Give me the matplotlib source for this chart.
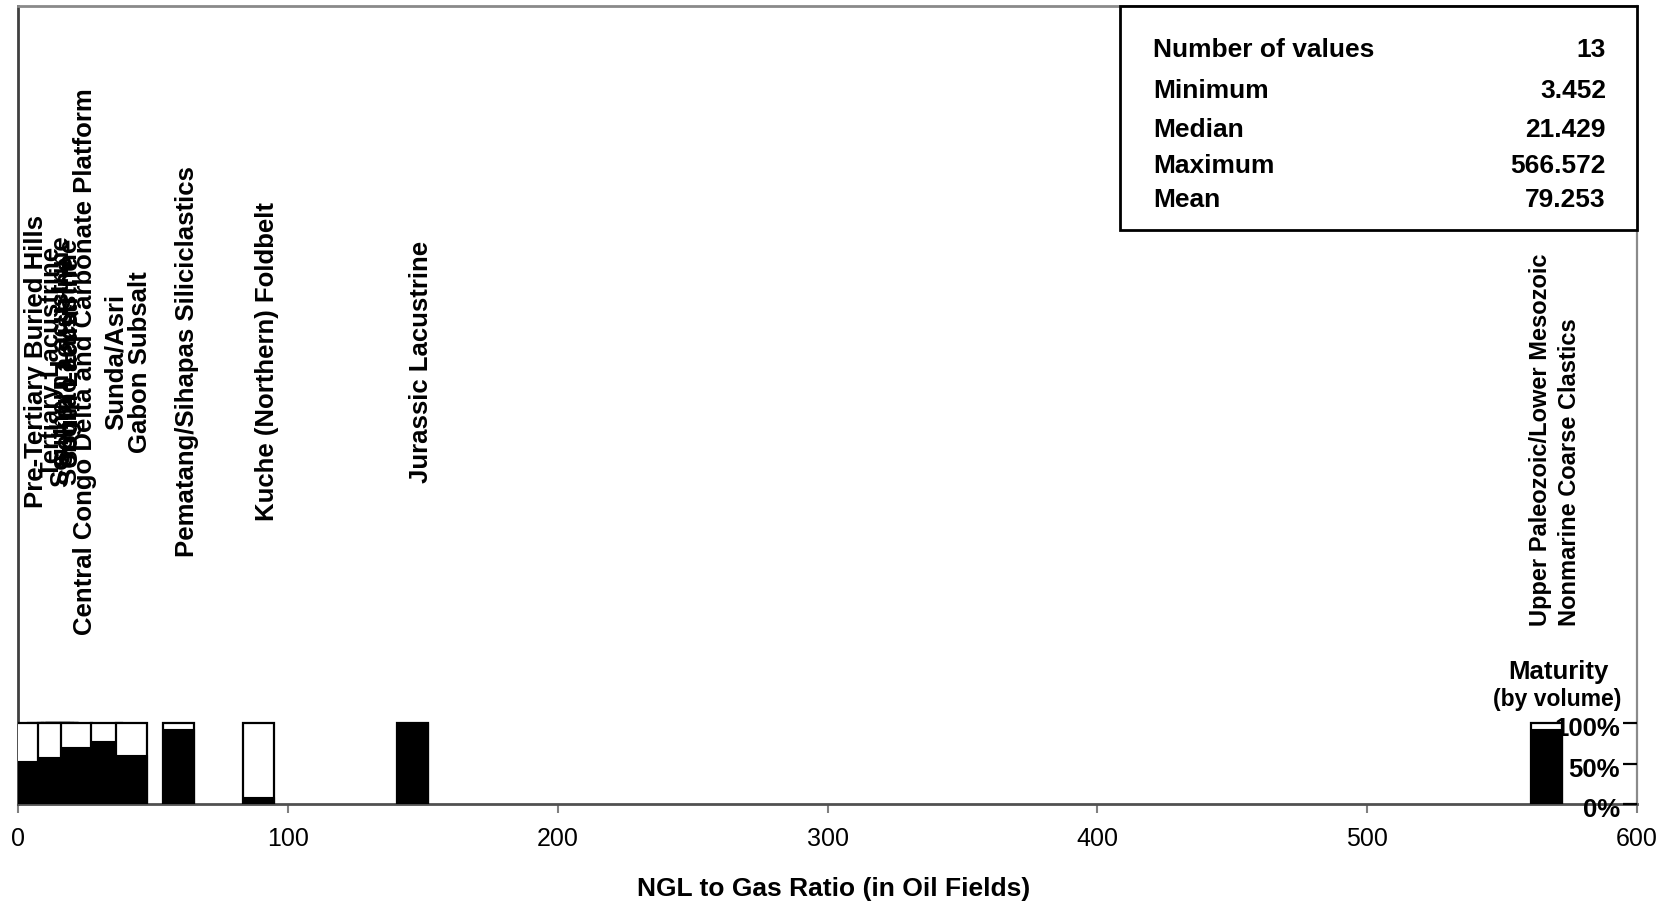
import matplotlib
matplotlib.use("Agg")
import matplotlib.pyplot as plt
from matplotlib.patches import Rectangle
from matplotlib.transforms import (ScaledTranslation, blended_transform_factory,
                                   Bbox, TransformedBbox)
import numpy as np

plt.rcParams['font.family'] = ['Liberation Sans', 'DejaVu Sans']

# Assessment units, listed in drawing order
units = [
    "South Lacustrine",
    "Songliao Lacustrine",
    "Sokor Lacustrine",
    "Tertiary Lacustrine",
    "Pre-Tertiary Buried Hills",
    "Southern Lacustrine",
    "Central Congo Delta and Carbonate Platform",
    "Sunda/Asri",
    "Gabon Subsalt",
    "Pematang/Sihapas Siliciclastics",
    "Kuche (Northern) Foldbelt",
    "Jurassic Lacustrine",
    "Upper Paleozoic/Lower Mesozoic\nNonmarine Coarse Clastics",
]
# NGL to gas ratio (in oil fields)
ngl_gas = [16.436, 16.0, 14.5, 9.5, 3.452, 13.2, 21.429, 32.8, 42.1,
           59.4, 88.9, 146.0, 566.572]
# mature fraction of volume for each unit
mature = [0.62, 0.65, 0.60, 0.55, 0.53, 0.58, 0.70, 0.78, 0.60,
          0.93, 0.09, 1.00, 0.92]

x_ticks = [0, 100, 200, 300, 400, 500, 600]
maturity_ticks = [0.0, 0.5, 1.0]
maturity_labels = ["0%", "50%", "100%"]

W, H = 1671, 905
fig = plt.figure(figsize=(W / 100, H / 100), dpi=100)
L, R = 18.3, 1636.7
B, T = 804, 6
ax = fig.add_axes([L / W, (H - B) / H, (R - L) / W, (B - T) / H])
ax.set_xlim(0, 600)
band = 81 / (B - T)          # share of the axes height used by a 100% bar
ax.set_ylim(0, 1 / band)

bar_w = 11.5
for i, (v, f) in enumerate(zip(ngl_gas, mature)):
    ax.bar(v, 1.0, width=bar_w, bottom=0, color="white", edgecolor="black",
           linewidth=1.6, zorder=2 + 2 * i)
    ax.bar(v, f, width=bar_w, bottom=0, color="black", edgecolor="black",
           linewidth=0.8, zorder=3 + 2 * i)

# rotated unit names over each bar
lab_tf = blended_transform_factory(ax.transData, ax.transAxes) + \
    ScaledTranslation(8.5 / 100, 0, fig.dpi_scale_trans)
for name, v in zip(units, ngl_gas):
    if "\n" in name:
        ax.text(v, 0.457, name, transform=lab_tf, rotation=90, ha="center",
                va="center", multialignment="left", fontsize=17,
                linespacing=1.35, fontweight="bold", zorder=40)
    else:
        ax.text(v, 0.554, name, transform=lab_tf, rotation=90, ha="center",
                va="center", fontsize=18.5, fontweight="bold", zorder=40)

ax.set_xticks(x_ticks)
ax.set_yticks([])
ax.tick_params(axis="x", direction="out", length=6.5, width=1.5,
               color="#808080", labelsize=18, pad=10)
ax.set_xlabel("NGL to Gas Ratio (in Oil Fields)", fontsize=19,
              fontweight="bold")
ax.xaxis.set_label_coords(0.5 + 6 / (R - L), (B - 889) / (B - T))
ax.xaxis.label.set_va("center")

for side, c, lw in [("left", "#404040", 2.0), ("bottom", "#505050", 2.0),
                    ("top", "#8a8a8a", 2.0), ("right", "#8a8a8a", 1.6)]:
    ax.spines[side].set_color(c)
    ax.spines[side].set_linewidth(lw)

# maturity scale on the right
ax2 = ax.twinx()
ax2.set_ylim(0, 1 / band)
ax2.set_yticks(maturity_ticks)
ax2.set_yticklabels([])
ax2.tick_params(axis="y", direction="in", length=10, width=1.6,
                color="black")
for s in ax2.spines.values():
    s.set_visible(False)
pct_tf = blended_transform_factory(ax2.transAxes, ax2.transData) + \
    ScaledTranslation(-17 / 100, -6 / 100, fig.dpi_scale_trans)
pct_clip = TransformedBbox(Bbox([[0, 0], [1620 / W, 1]]), fig.transFigure)
for v, lab in zip(maturity_ticks, maturity_labels):
    t = ax2.text(1.0, v, lab, transform=pct_tf, ha="right", va="center",
                 fontsize=18.5, fontweight="bold", zorder=60)
    t.set_clip_box(pct_clip)
    t.set_clip_on(True)

fig.text(1558 / W, (H - 672) / H, "Maturity", ha="center", va="center",
         fontsize=18.5, fontweight="bold")
fig.text(1557 / W, (H - 699) / H, "(by volume)", ha="center", va="center",
         fontsize=16.5, fontweight="bold")

# summary statistics box
vals = np.array(ngl_gas)
stats = [
    ("Number of values", f"{len(vals)}"),
    ("Minimum", f"{vals.min():.3f}"),
    ("Median", f"{np.median(vals):.3f}"),
    ("Maximum", f"{vals.max():.3f}"),
    ("Mean", f"{vals.mean():.3f}"),
]
bx0 = (1120 - L) / (R - L)
by0 = (B - 230) / (B - T)
ax.add_patch(Rectangle((bx0, by0), 1.0 - bx0, 1.0 - by0, transform=ax.transAxes,
                       facecolor="white", edgecolor="black", linewidth=2.0,
                       zorder=50, clip_on=False))
row_y = [50, 91.5, 130, 166, 200]
for (k, val), yy in zip(stats, row_y):
    yf = (B - yy) / (B - T)
    ax.text((1153 - L) / (R - L), yf, k, transform=ax.transAxes, ha="left",
            va="center", fontsize=19, fontweight="bold", zorder=51)
    ax.text((1606 - L) / (R - L), yf, val, transform=ax.transAxes, ha="right",
            va="center", fontsize=19, fontweight="bold", zorder=51)

fig.savefig("out.png", dpi=100, facecolor="white")
